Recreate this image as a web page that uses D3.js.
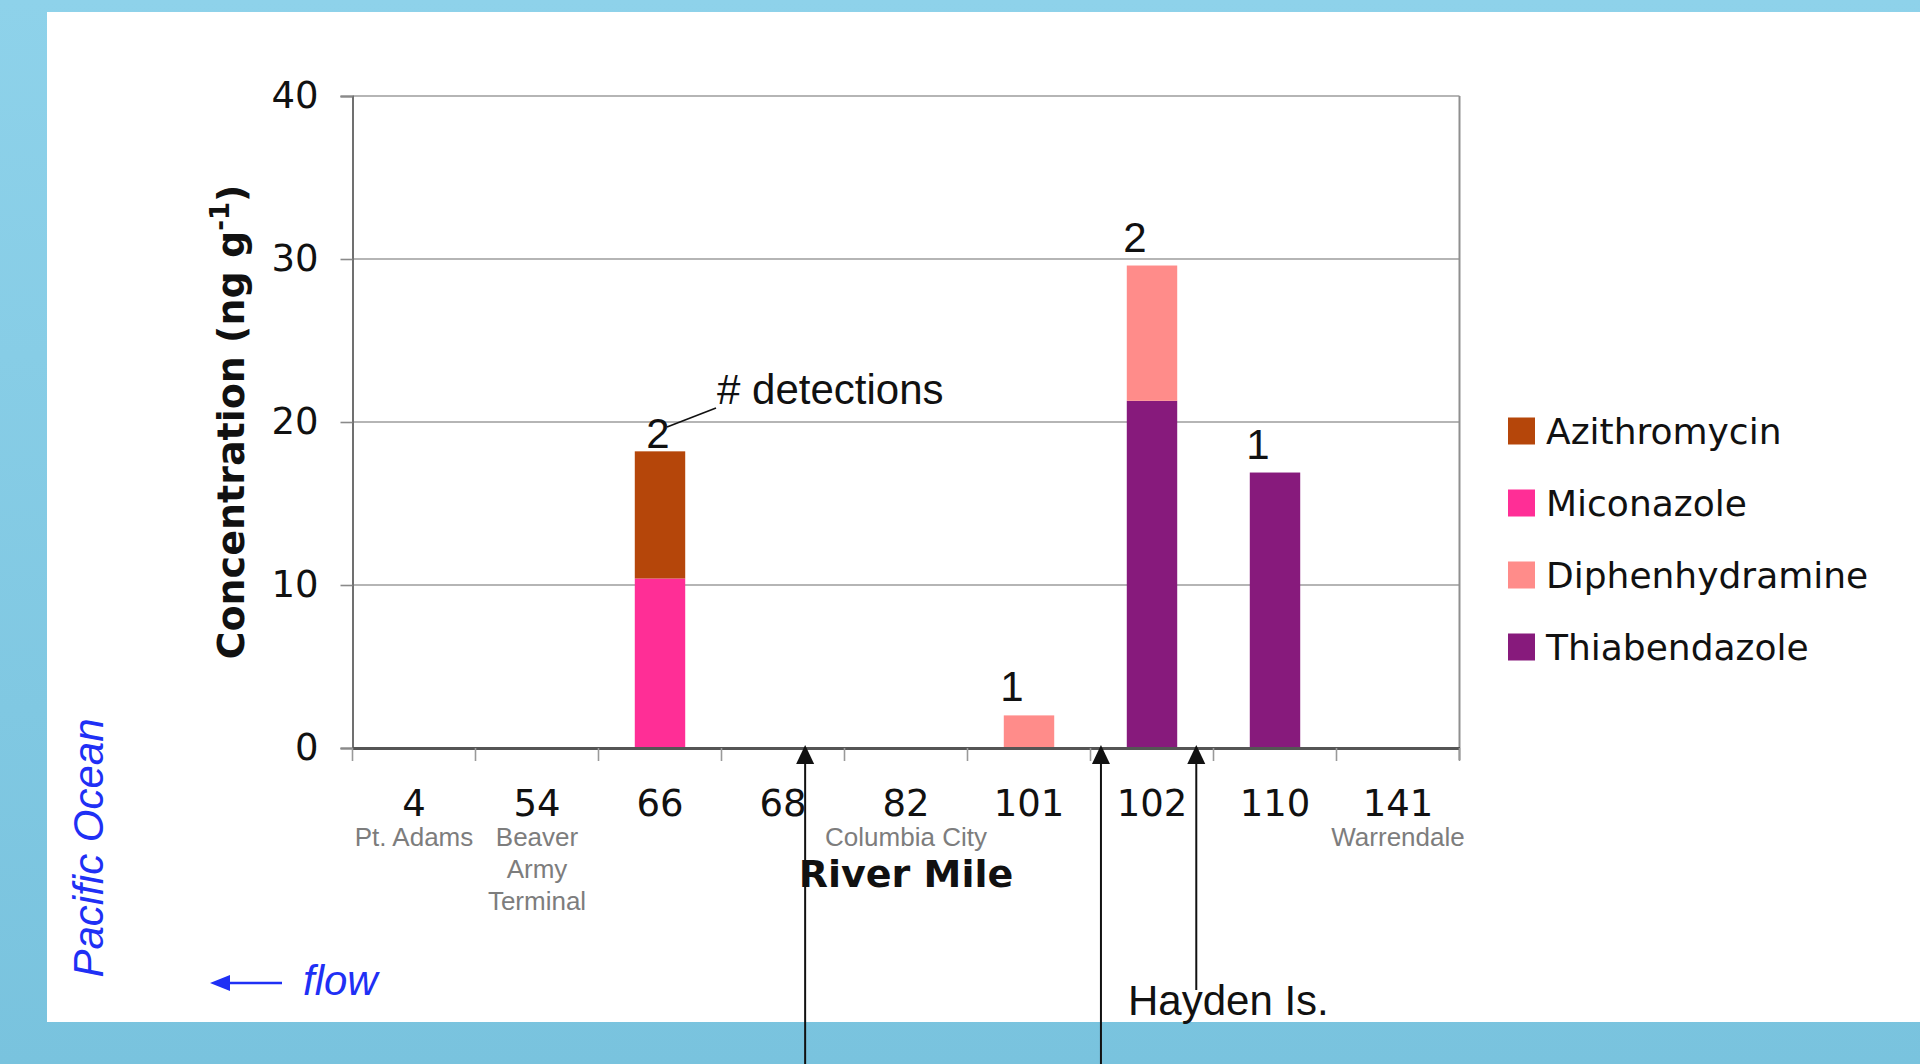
<!DOCTYPE html>
<html>
<head>
<meta charset="utf-8">
<script src="https://cdn.jsdelivr.net/npm/d3@7/dist/d3.min.js"></script>
<style>
  html, body { margin: 0; padding: 0; background: #86cde6; }
  svg { display: block; }
</style>
</head>
<body>
<svg id="chart" width="1920" height="1064"></svg>
<script>
// River-mile sampling sites along the Columbia River
const riverMiles = ["4", "54", "66", "68", "82", "101", "102", "110", "141"];
const siteNames = [["Pt. Adams"], ["Beaver", "Army", "Terminal"], [], [], ["Columbia City"], [], [], [], ["Warrendale"]];

// Sediment concentrations (ng g-1) per compound at each site
const azithromycin    = [0, 0, 7.8, 0, 0, 0,   0,    0,    0];
const miconazole      = [0, 0, 10.4, 0, 0, 0,  0,    0,    0];
const diphenhydramine = [0, 0, 0,   0, 0, 2.0, 8.3,  0,    0];
const thiabendazole   = [0, 0, 0,   0, 0, 0,   21.3, 16.9, 0];

// Number of compounds detected at a site
const detections = [null, null, 2, null, null, 1, 2, 1, null];

const yTicks = [0, 10, 20, 30, 40];

const compounds = ["Thiabendazole", "Diphenhydramine", "Miconazole", "Azithromycin"];
const compoundColors = {
  Azithromycin: "#b5460a",
  Miconazole: "#ff2e96",
  Diphenhydramine: "#ff8c8a",
  Thiabendazole: "#871a7c"
};
const legendOrder = ["Azithromycin", "Miconazole", "Diphenhydramine", "Thiabendazole"];

const rows = riverMiles.map((m, i) => ({
  mile: m,
  Azithromycin: azithromycin[i],
  Miconazole: miconazole[i],
  Diphenhydramine: diphenhydramine[i],
  Thiabendazole: thiabendazole[i]
}));

const svg = d3.select("#chart");
const W = 1920, H = 1064;

// Frame: blue surround with a white slide area
const bg = svg.append("defs").append("linearGradient")
  .attr("id", "frameGrad").attr("x1", 0).attr("y1", 0).attr("x2", 0).attr("y2", 1);
bg.append("stop").attr("offset", "0%").attr("stop-color", "#8ed2ea");
bg.append("stop").attr("offset", "100%").attr("stop-color", "#79c3de");
svg.append("rect").attr("width", W).attr("height", H).attr("fill", "url(#frameGrad)");
svg.append("rect").attr("x", 47).attr("y", 12).attr("width", W - 47).attr("height", 1022 - 12).attr("fill", "#ffffff");

const plot = { left: 352.5, right: 1459.5, top: 96, bottom: 748 };

const x = d3.scaleBand().domain(riverMiles).range([plot.left, plot.right])
  .paddingInner(0.59).paddingOuter(0.295);
const y = d3.scaleLinear().domain([0, 40]).range([plot.bottom, plot.top]);
const step = x.step();
const bandStart = m => x(m) - x.paddingOuter() * step;
const bandCenter = m => x(m) + x.bandwidth() / 2;

// Horizontal gridlines
svg.append("g").selectAll("line").data(yTicks.filter(t => t > 0)).join("line")
  .attr("x1", plot.left).attr("x2", plot.right)
  .attr("y1", d => y(d)).attr("y2", d => y(d))
  .attr("stroke", "#9c9c9c").attr("stroke-width", 1.6);

// Y axis
const yAxis = svg.append("g").attr("transform", `translate(${plot.left},0)`)
  .call(d3.axisLeft(y).tickValues(yTicks).tickSize(12).tickPadding(22));
yAxis.select(".domain").attr("stroke", "#707070").attr("stroke-width", 2);
yAxis.selectAll(".tick line").attr("stroke", "#8a8a8a").attr("stroke-width", 1.6);
yAxis.selectAll(".tick text")
  .attr("font-family", "DejaVu Sans, sans-serif").attr("font-size", 37).attr("fill", "#111");

// Right border of the plot
svg.append("line").attr("x1", plot.right).attr("x2", plot.right)
  .attr("y1", plot.top).attr("y2", plot.bottom + 12)
  .attr("stroke", "#8f8f8f").attr("stroke-width", 2);

// Stacked bars
const stacked = d3.stack().keys(compounds)(rows);
svg.append("g").selectAll("g").data(stacked).join("g")
  .attr("fill", d => compoundColors[d.key])
  .selectAll("rect").data(d => d.filter(s => s[1] - s[0] > 0)).join("rect")
  .attr("x", d => x(d.data.mile))
  .attr("width", x.bandwidth())
  .attr("y", d => y(d[1]))
  .attr("height", d => y(d[0]) - y(d[1]));

// X axis baseline and ticks at band boundaries
const xAxis = svg.append("g").attr("transform", `translate(0,${plot.bottom})`)
  .call(d3.axisBottom(x).tickSize(0).tickFormat(() => ""));
xAxis.select(".domain").attr("stroke", "#555").attr("stroke-width", 3);
const boundaries = riverMiles.map(bandStart).concat([plot.right]);
svg.append("g").selectAll("line").data(boundaries).join("line")
  .attr("x1", d => d).attr("x2", d => d)
  .attr("y1", plot.bottom).attr("y2", plot.bottom + 13)
  .attr("stroke", "#999").attr("stroke-width", 1.6);

// River-mile labels
svg.append("g").selectAll("text").data(riverMiles).join("text")
  .attr("x", d => bandCenter(d)).attr("y", 816)
  .attr("text-anchor", "middle")
  .attr("font-family", "DejaVu Sans, sans-serif").attr("font-size", 37).attr("fill", "#111")
  .text(d => d);

// Site names under the river miles
const siteG = svg.append("g");
riverMiles.forEach((m, i) => {
  siteNames[i].forEach((line, j) => {
    siteG.append("text")
      .attr("x", bandCenter(m)).attr("y", 846 + j * 32)
      .attr("text-anchor", "middle")
      .attr("font-family", "Liberation Sans, Arial, sans-serif").attr("font-size", 26)
      .attr("fill", "#7d7d7d")
      .text(line);
  });
});

// Axis titles
svg.append("text")
  .attr("x", 906).attr("y", 887).attr("text-anchor", "middle")
  .attr("font-family", "DejaVu Sans, sans-serif").attr("font-weight", "bold")
  .attr("font-size", 38).attr("fill", "#111")
  .text("River Mile");

const yTitle = svg.append("text")
  .attr("transform", "translate(244,422) rotate(-90)")
  .attr("text-anchor", "middle")
  .attr("font-family", "DejaVu Sans, sans-serif").attr("font-weight", "bold")
  .attr("font-size", 38).attr("fill", "#111");
yTitle.append("tspan").text("Concentration (ng g");
yTitle.append("tspan").attr("dy", -15).attr("font-size", 26).text("-1");
yTitle.append("tspan").attr("dy", 15).text(")");

// Detection counts above bars
const totals = rows.map(r => compounds.reduce((s, k) => s + r[k], 0));
const countG = svg.append("g")
  .attr("font-family", "Liberation Sans, Arial, sans-serif").attr("font-size", 42).attr("fill", "#111");
detections.forEach((n, i) => {
  if (n == null) return;
  const m = riverMiles[i];
  const lead = i === 2; // the first count carries the "# detections" callout
  countG.append("text")
    .attr("x", bandCenter(m) + (lead ? -2 : -17))
    .attr("y", y(totals[i]) - (lead ? 3 : 14))
    .attr("text-anchor", "middle")
    .text(n);
});

// "# detections" callout with its leader line
svg.append("line").attr("x1", 667).attr("y1", 427).attr("x2", 716).attr("y2", 408)
  .attr("stroke", "#111").attr("stroke-width", 1.6);
svg.append("text").attr("x", 717).attr("y", 404)
  .attr("font-family", "Liberation Sans, Arial, sans-serif").attr("font-size", 42).attr("fill", "#111")
  .text("# detections");

// Legend
const legend = svg.append("g");
legendOrder.forEach((k, i) => {
  const cy = 431 + i * 72;
  legend.append("rect").attr("x", 1508).attr("y", cy - 13.5).attr("width", 27).attr("height", 27)
    .attr("fill", compoundColors[k]);
  legend.append("text").attr("x", 1546).attr("y", cy)
    .attr("dominant-baseline", "central")
    .attr("font-family", "DejaVu Sans, sans-serif").attr("font-size", 36).attr("fill", "#111")
    .text(k);
});

// Landmark arrows pointing up at the river-mile axis
const landmarks = [
  { mile: "68", frac: 0.68, end: H },
  { mile: "102", frac: 0.085, end: H },
  { mile: "102", frac: 0.86, end: 990 }
];
const arrowG = svg.append("g");
landmarks.forEach(a => {
  const ax = bandStart(a.mile) + a.frac * step;
  const tip = plot.bottom - 3;
  arrowG.append("line").attr("x1", ax).attr("x2", ax).attr("y1", tip + 15).attr("y2", a.end)
    .attr("stroke", "#111").attr("stroke-width", 2);
  arrowG.append("path")
    .attr("d", `M${ax},${tip} L${ax - 9},${tip + 19} L${ax + 9},${tip + 19} Z`)
    .attr("fill", "#111");
});
svg.append("text").attr("x", 1128).attr("y", 1015)
  .attr("font-family", "Liberation Sans, Arial, sans-serif").attr("font-size", 42).attr("fill", "#111")
  .text("Hayden Is.");

// Flow direction and river mouth
const blue = "#1f30f5";
svg.append("text")
  .attr("transform", "translate(103,848) rotate(-90)")
  .attr("text-anchor", "middle")
  .attr("font-family", "Liberation Sans, Arial, sans-serif").attr("font-style", "italic")
  .attr("font-size", 42).attr("fill", blue)
  .text("Pacific Ocean");
svg.append("line").attr("x1", 226).attr("x2", 282).attr("y1", 983).attr("y2", 983)
  .attr("stroke", blue).attr("stroke-width", 2.5);
svg.append("path").attr("d", "M210,983 L230,975 L230,991 Z").attr("fill", blue);
svg.append("text").attr("x", 303).attr("y", 995)
  .attr("font-family", "Liberation Sans, Arial, sans-serif").attr("font-style", "italic")
  .attr("font-size", 42).attr("fill", blue)
  .text("flow");
</script>
</body>
</html>
